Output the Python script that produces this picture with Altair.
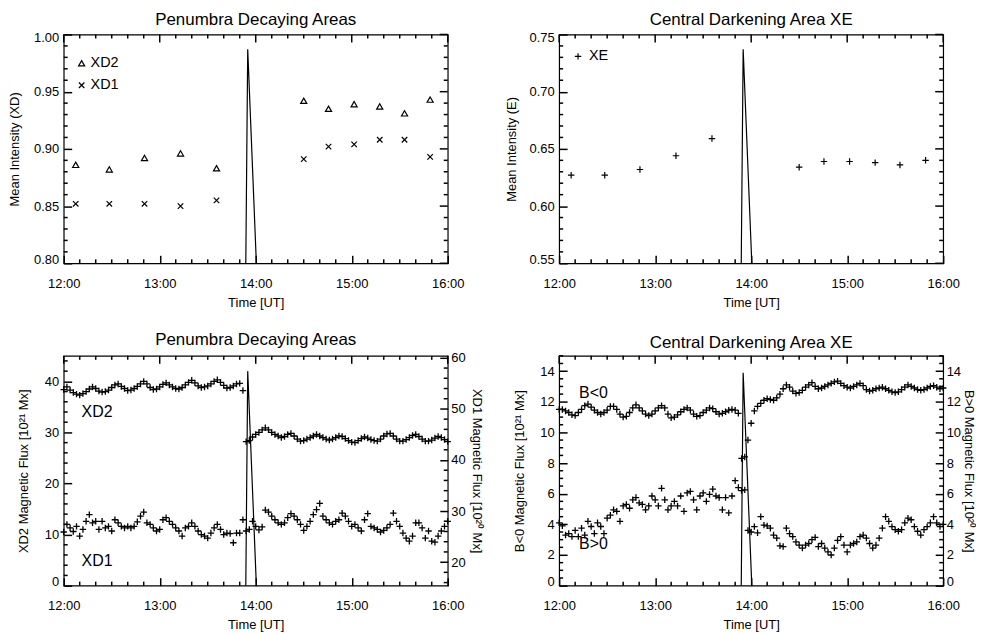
import altair as alt
import pandas as pd

# ---------------- data (time in minutes after 12:00 UT) ----------------
SLOT_TIMES = [7.5, 28.5, 50.5, 73.0, 95.5, 150.0, 165.5, 181.5, 197.5, 213.0, 229.0]
XD2_MEAN = [0.886, 0.882, 0.892, 0.896, 0.883, 0.942, 0.935, 0.939, 0.937, 0.931, 0.943]
XD1_MEAN = [0.852, 0.852, 0.852, 0.850, 0.855, 0.891, 0.902, 0.904, 0.908, 0.908, 0.893]
XE_MEAN = [0.627, 0.627, 0.632, 0.644, 0.659, 0.634, 0.639, 0.639, 0.638, 0.636, 0.640]

SPIKE_T = [113.8, 115.0, 120.4]
SPIKE_TL = [0.80, 0.987, 0.80]
SPIKE_TR = [0.55, 0.737, 0.55]
SPIKE_BL = [0.0, 42.0, 0.0]
SPIKE_BR = [0.0, 13.9, 0.0]

FLUX_T = list(range(0, 241, 2))

XD2_FLUX = [
    38.4, 38.9, 38.3, 37.8, 37.5, 37.3, 37.6, 38.0, 38.5, 38.9,
    38.6, 38.1, 37.9, 38.0, 38.3, 38.8, 39.3, 39.5, 39.0, 38.6,
    38.2, 38.3, 38.6, 39.0, 39.5, 40.0, 39.5, 38.8, 38.4, 38.5,
    38.9, 39.4, 39.7, 39.3, 38.9, 38.6, 38.5, 38.8, 39.3, 39.8,
    40.2, 39.7, 39.1, 38.8, 38.9, 39.1, 39.5, 40.0, 40.3, 39.8,
    39.2, 38.7, 38.8, 39.1, 39.5, 39.6, 38.2,
    28.2, 28.4, 29.1, 29.6, 30.0, 30.5, 30.9, 30.5, 30.0, 29.6,
    29.3, 29.0, 29.2, 29.6, 29.8, 29.3, 28.7, 28.3, 28.4, 28.7,
    29.0, 29.3, 29.6, 29.3, 29.0, 28.7, 28.5, 28.7, 29.0, 29.3,
    29.2, 28.8, 28.4, 28.1, 28.0, 28.4, 28.8, 29.1, 28.9, 28.6,
    28.4, 28.3, 28.7, 29.3, 29.7, 29.8, 29.3, 28.7, 28.3, 28.3,
    28.6, 29.0, 29.4, 29.6, 29.2, 28.7, 28.3, 28.3, 28.5, 28.9,
    29.2, 29.0, 28.6, 28.2,
]

XD1_FLUX = [
    25.9, 27.4, 26.7, 26.0, 27.0, 25.1, 26.4, 28.0, 29.3, 27.7,
    28.0, 26.4, 28.0, 26.7, 27.0, 26.1, 28.3, 27.7, 27.0, 26.7,
    27.0, 26.7, 27.0, 27.9, 29.0, 29.8, 27.7, 27.4, 26.7, 26.1,
    26.4, 28.3, 28.7, 28.0, 27.4, 26.7, 26.1, 25.1, 26.7, 27.0,
    27.7, 27.0, 26.1, 25.4, 25.1, 24.7, 25.7, 26.7, 27.4, 26.4,
    25.4, 25.7, 25.6, 23.8, 25.7, 25.7, 28.3, 26.1, 26.4, 28.0,
    27.0, 26.3, 26.9, 30.2, 29.8, 29.0, 28.3, 27.7, 27.4, 27.7,
    28.7, 29.5, 29.0, 28.3, 27.4, 26.2, 27.0, 28.0, 29.3, 30.3,
    31.5, 29.0, 28.3, 27.7, 27.4, 28.0, 28.3, 29.6, 29.0, 28.0,
    27.0, 27.4, 26.7, 26.1, 28.3, 29.5, 27.0, 26.7, 26.4, 25.9,
    26.2, 26.7, 27.4, 29.6, 28.0, 27.0, 25.7, 24.7, 24.1, 25.1,
    27.7, 27.7, 26.7, 24.7, 26.1, 24.1, 23.9, 25.1, 26.1, 27.0,
    28.0,
]

BNEG_FLUX = [
    11.5, 11.5, 11.4, 11.3, 11.15, 11.1, 11.3, 11.5, 11.75, 11.85,
    11.65, 11.45, 11.3, 11.2, 11.3, 11.45, 11.7, 11.7, 11.5, 11.2,
    11.0, 11.05, 11.3, 11.6, 11.8, 11.6, 11.4, 11.2, 11.1, 11.2,
    11.4, 11.6, 11.75, 11.6, 11.2, 10.95, 11.0, 11.15, 11.35, 11.5,
    11.6, 11.45, 11.2, 11.05, 11.1, 11.3, 11.45, 11.6, 11.55, 11.35,
    11.2, 11.25, 11.35, 11.45, 11.5, 11.45, 11.25, 8.3, 8.4, 9.5,
    10.6, 11.4, 11.7, 11.9, 12.1, 12.2, 12.15, 12.1, 12.25, 12.5,
    12.85, 13.1, 12.95, 12.7, 12.55, 12.6, 12.75, 12.95, 13.1, 13.25,
    13.0, 12.85, 12.9, 13.0, 13.1, 13.2, 13.3, 13.35, 13.2, 13.05,
    12.95, 12.9, 13.0, 13.1, 13.2, 13.05, 12.8, 12.7, 12.75, 12.85,
    12.9, 12.95, 12.85, 12.75, 12.65, 12.6, 12.65, 12.8, 12.95, 13.1,
    13.0, 12.9, 12.8, 12.75, 12.8, 12.9, 13.0, 13.05, 12.95, 12.85,
    12.9,
]

BPOS_FLUX = [
    4.1, 3.9, 3.3, 3.4, 3.2, 3.6, 3.2, 3.75, 3.3, 4.2,
    3.86, 3.4, 4.1, 3.86, 3.4, 4.4, 4.6, 4.95, 4.85, 4.2,
    5.2, 5.3, 5.05, 5.6, 5.75, 5.4, 5.3, 4.95, 5.2, 5.85,
    5.6, 5.2, 6.35, 5.6, 4.95, 5.2, 5.5, 5.2, 5.85, 4.85,
    6.05, 6.15, 5.6, 4.95, 5.85, 6.05, 5.5, 5.95, 6.3, 5.85,
    5.75, 4.95, 5.75, 4.75, 5.85, 6.85, 6.4, 6.2, 6.25, 3.6,
    3.5, 3.85, 3.45, 4.5, 3.95, 3.9, 3.75, 3.3, 3.1, 2.6,
    2.55, 3.75, 3.4, 3.2, 2.85, 2.65, 2.45, 2.65, 2.75, 3.0,
    3.15, 2.55, 2.75, 2.45, 2.2, 2.0, 2.45, 2.95, 3.2, 2.65,
    2.2, 2.65, 2.75, 2.85, 3.2, 3.3, 3.1, 2.75, 2.45, 2.65,
    3.1, 3.75, 4.5, 4.2, 3.85, 3.65, 3.55, 3.65, 4.1, 4.4,
    4.3, 3.85, 3.55, 3.3, 3.65, 3.85, 4.1, 4.5, 4.1, 3.85,
    4.0,
]

TITLE_TL = "Penumbra Decaying Areas"
TITLE_TR = "Central Darkening Area XE"

# axis ranges and tick positions (axis units)
X_RANGE = [0, 240]
TL_RANGE = [0.80, 1.00]
TR_RANGE = [0.55, 0.75]
BL_L_RANGE = [0, 45]
BL_R_RANGE = [15.4, 60.4]
BR_RANGE = [0, 15]

X_MAJOR = [0, 60, 120, 180, 240]
X_MINOR = [m for m in range(0, 241, 10) if m % 60]


def steps(lo, n, step, nd=3):
    return [round(lo + step * i, nd) for i in range(n)]


TL_MAJOR = steps(0.80, 5, 0.05)
TL_MINOR = [v for v in steps(0.80, 21, 0.01) if v not in TL_MAJOR]
TR_MAJOR = steps(0.55, 5, 0.05)
TR_MINOR = [v for v in steps(0.55, 21, 0.01) if v not in TR_MAJOR]
BL_L_MAJOR = [0, 10, 20, 30, 40]
BL_L_MINOR = [v for v in range(2, 45, 2) if v % 10]
BL_R_MAJOR = [20, 30, 40, 50, 60]
BL_R_MINOR = [v for v in range(16, 61, 2) if v % 10]
BR_MAJOR = [0, 2, 4, 6, 8, 10, 12, 14]
BR_MINOR = [v for v in steps(0, 31, 0.5, 1) if v not in BR_MAJOR]

# ---------------- styling ----------------
FONT = "Liberation Sans"
W = 386
H_TOP = 230
H_BOT = 231
TICK_W = 1.5
MAJ_LEN = 8
MIN_LEN = 4

PLUS = "M-1,0L1,0M0,-1L0,1"
XMARK = "M-0.85,-0.85L0.85,0.85M-0.85,0.85L0.85,-0.85"
TRI = "M0,-0.85L0.95,0.8L-0.95,0.8Z"

X_SCALE = alt.Scale(domain=X_RANGE, nice=False, zero=False)
# axis line moved 8 px inside the frame; its outward ticks then sit inside the plot
X_AXIS = alt.Axis(
    values=X_MAJOR, title="Time [UT]",
    labelExpr="(12 + datum.value / 60) + ':00'",
    ticks=True, tickSize=MAJ_LEN, tickWidth=TICK_W, tickColor="black",
    offset=-MAJ_LEN, domain=False, grid=False,
    labelOverlap=False, labelFlush=False,
    labelPadding=14, titlePadding=6,
)


def xe(field="t"):
    return alt.X(f"{field}:Q", scale=X_SCALE, axis=X_AXIS)


def y_axis(values, fmt, title, orient="left", title_pad=12):
    return alt.Axis(
        orient=orient, values=values, title=title, format=fmt,
        ticks=True, tickSize=MAJ_LEN, tickWidth=TICK_W, tickColor="black",
        offset=-MAJ_LEN, domain=False, grid=False,
        labelOverlap=False, labelFlush=1, labelFlushOffset=3,
        labelPadding=5 if orient == "left" else 3, titlePadding=title_pad,
    )


def title(txt):
    return alt.TitleParams(txt, font=FONT, fontSize=17, fontWeight="normal",
                           color="black", offset=3, frame="group")


def pts(df, field, shape, scale, axis, sw=1.2, size=42):
    return alt.Chart(df).mark_point(shape=shape, filled=False, color="black",
                                    size=size, strokeWidth=sw, opacity=1).encode(
        x=xe(), y=alt.Y(f"{field}:Q", scale=scale, axis=axis))


def spike(df, scale, axis):
    return alt.Chart(df).mark_line(color="black", strokeWidth=1.2, clip=True).encode(
        x=xe(), y=alt.Y("v:Q", scale=scale, axis=axis))


def legend_sym(shape, x, y):
    return alt.Chart(pd.DataFrame({"k": [0]})).mark_point(
        shape=shape, filled=False, color="black", size=42, strokeWidth=1.2, opacity=1
    ).encode(x=alt.value(x), y=alt.value(y))


def label(txt, x, y, size=14.5):
    return alt.Chart(pd.DataFrame({"label": [txt]})).mark_text(
        align="left", baseline="middle", font=FONT, fontSize=size, color="black"
    ).encode(text="label:N", x=alt.value(x), y=alt.value(y))


def x_ticks(h, top_major=True):
    """Minor inside ticks (bottom and top) and mirrored major ticks on the top edge."""
    out = []
    df = pd.DataFrame({"tick": X_MINOR})
    base = alt.Chart(df).mark_tick(color="black", thickness=TICK_W,
                                   size=MIN_LEN, opacity=1, orient="vertical")
    out.append(base.encode(x=xe("tick"), y=alt.value(h - MIN_LEN / 2)))
    out.append(base.encode(x=xe("tick"), y=alt.value(MIN_LEN / 2)))
    if top_major:
        dfm = pd.DataFrame({"tick": X_MAJOR})
        basem = alt.Chart(dfm).mark_tick(color="black", thickness=TICK_W,
                                         size=MAJ_LEN, opacity=1, orient="vertical")
        out.append(basem.encode(x=xe("tick"), y=alt.value(MAJ_LEN / 2)))
    return out


def y_ticks(major, minor, scale, axis, sides=("left", "right"), mirror_major=False):
    out = []
    y = alt.Y("tick:Q", scale=scale, axis=axis)
    dfn = pd.DataFrame({"tick": minor})
    basen = alt.Chart(dfn).mark_tick(color="black", thickness=TICK_W,
                                     size=MIN_LEN, opacity=1, orient="horizontal")
    if "left" in sides:
        out.append(basen.encode(y=y, x=alt.value(MIN_LEN / 2)))
    if "right" in sides:
        out.append(basen.encode(y=y, x=alt.value(W - MIN_LEN / 2)))
    if mirror_major:
        dfm = pd.DataFrame({"tick": major})
        basem = alt.Chart(dfm).mark_tick(color="black", thickness=TICK_W,
                                         size=MAJ_LEN, opacity=1, orient="horizontal")
        out.append(basem.encode(y=y, x=alt.value(W - MAJ_LEN / 2)))
    return out


# ---------------- top-left ----------------
tl_df = pd.DataFrame({"t": SLOT_TIMES, "XD2": XD2_MEAN, "XD1": XD1_MEAN})
tl_scale = alt.Scale(domain=TL_RANGE, nice=False, zero=False)
tl_axis = y_axis(TL_MAJOR, ".2f", "Mean Intensity (XD)", title_pad=12)
tl_spike = pd.DataFrame({"t": SPIKE_T, "v": SPIKE_TL})

tl = alt.layer(
    pts(tl_df, "XD2", TRI, tl_scale, tl_axis),
    pts(tl_df, "XD1", XMARK, tl_scale, tl_axis),
    spike(tl_spike, tl_scale, tl_axis),
    *x_ticks(H_TOP),
    *y_ticks(TL_MAJOR, TL_MINOR, tl_scale, tl_axis, mirror_major=True),
    legend_sym(TRI, 18, 29), label("XD2", 27, 29),
    legend_sym(XMARK, 18, 51), label("XD1", 27, 51),
).properties(width=W, height=H_TOP, title=title(TITLE_TL))

# ---------------- top-right ----------------
tr_df = pd.DataFrame({"t": SLOT_TIMES, "XE": XE_MEAN})
tr_scale = alt.Scale(domain=TR_RANGE, nice=False, zero=False)
tr_axis = y_axis(TR_MAJOR, ".2f", "Mean Intensity (E)", title_pad=11)
tr_spike = pd.DataFrame({"t": SPIKE_T, "v": SPIKE_TR})

tr = alt.layer(
    pts(tr_df, "XE", PLUS, tr_scale, tr_axis),
    spike(tr_spike, tr_scale, tr_axis),
    *x_ticks(H_TOP),
    *y_ticks(TR_MAJOR, TR_MINOR, tr_scale, tr_axis, mirror_major=True),
    legend_sym(PLUS, 19, 22), label("XE", 30, 22),
).properties(width=W, height=H_TOP, title=title(TITLE_TR))

# ---------------- bottom-left ----------------
bl_df = pd.DataFrame({"t": FLUX_T, "XD2": XD2_FLUX, "XD1": XD1_FLUX})
bl_lscale = alt.Scale(domain=BL_L_RANGE, nice=False, zero=False)
bl_rscale = alt.Scale(domain=BL_R_RANGE, nice=False, zero=False)
bl_laxis = y_axis(BL_L_MAJOR, "d", "XD2 Magnetic Flux [10²¹ Mx]", "left", title_pad=14)
bl_raxis = y_axis(BL_R_MAJOR, "d", "XD1 Magnetic Flux [10²⁰ Mx]", "right", title_pad=4)
bl_spike = pd.DataFrame({"t": SPIKE_T, "v": SPIKE_BL})

bl_left = alt.layer(
    pts(bl_df, "XD2", PLUS, bl_lscale, bl_laxis, 1.3, 42),
    spike(bl_spike, bl_lscale, bl_laxis),
    *x_ticks(H_BOT),
    *y_ticks(BL_L_MAJOR, BL_L_MINOR, bl_lscale, bl_laxis, ("left",)),
    label("XD2", 18, 56, 16), label("XD1", 18, 206, 16),
)
bl_right = alt.layer(
    pts(bl_df, "XD1", PLUS, bl_rscale, bl_raxis, 1.3, 42),
    *y_ticks(BL_R_MAJOR, BL_R_MINOR, bl_rscale, bl_raxis, ("right",)),
)
bl = alt.layer(bl_left, bl_right).resolve_scale(y="independent").properties(
    width=W, height=H_BOT, title=title(TITLE_TL))

# ---------------- bottom-right ----------------
br_df = pd.DataFrame({"t": FLUX_T, "BNEG": BNEG_FLUX, "BPOS": BPOS_FLUX})
br_lscale = alt.Scale(domain=BR_RANGE, nice=False, zero=False)
br_rscale = alt.Scale(domain=BR_RANGE, nice=False, zero=False)
br_laxis = y_axis(BR_MAJOR, "d", "B<0 Magnetic Flux [10²¹ Mx]", "left", title_pad=13)
br_raxis = y_axis(BR_MAJOR, "d", "B>0 Magnetic Flux [10²⁰ Mx]", "right", title_pad=1)
br_spike = pd.DataFrame({"t": SPIKE_T, "v": SPIKE_BR})

br_left = alt.layer(
    pts(br_df, "BNEG", PLUS, br_lscale, br_laxis, 1.3, 42),
    spike(br_spike, br_lscale, br_laxis),
    *x_ticks(H_BOT),
    *y_ticks(BR_MAJOR, BR_MINOR, br_lscale, br_laxis, ("left",)),
    label("B<0", 20, 37, 16), label("B>0", 20, 189, 16),
)
br_right = alt.layer(
    pts(br_df, "BPOS", PLUS, br_rscale, br_raxis, 1.3, 42),
    *y_ticks(BR_MAJOR, BR_MINOR, br_rscale, br_raxis, ("right",)),
)
br = alt.layer(br_left, br_right).resolve_scale(y="independent").properties(
    width=W, height=H_BOT, title=title(TITLE_TR))

chart = alt.concat(
    tl, tr, bl, br, columns=2, spacing={"row": 93, "column": 112}, bounds="flush"
).properties(
    padding={"left": 0, "top": 0, "right": 0, "bottom": 0}
).configure(
    font=FONT, background="white"
).configure_view(
    stroke="black", strokeWidth=1.2
).configure_axis(
    labelFont=FONT, labelFontSize=13, labelColor="black",
    titleFont=FONT, titleFontSize=13, titleFontWeight="normal", titleColor="black",
)

chart.save("out.html", embed_options={"renderer": "svg", "actions": False})
